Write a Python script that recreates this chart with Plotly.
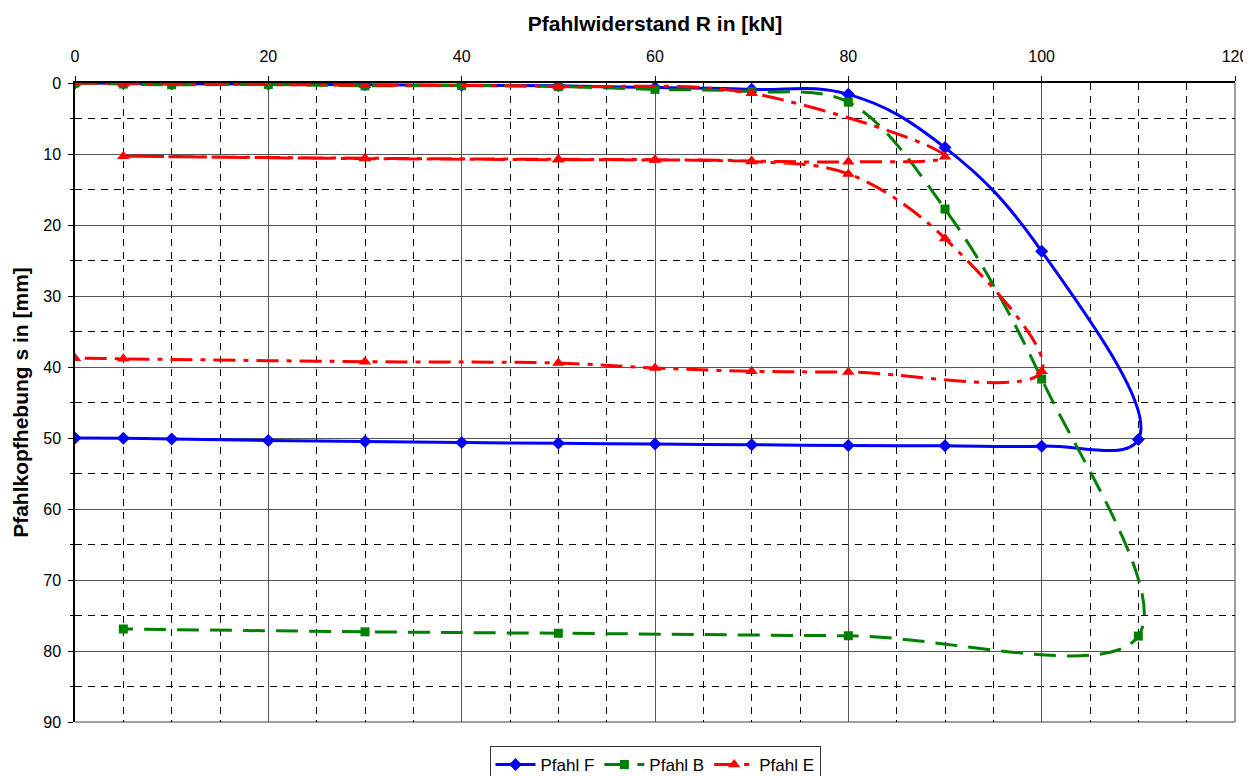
import plotly.graph_objects as go

# ---- data ----
F_R = [0, 5, 10, 20, 30, 40, 50, 60, 70, 80, 90, 100, 110,
       100, 90, 80, 70, 60, 50, 40, 30, 20, 10, 5, 0]
F_s = [0, 0.05, 0.1, 0.15, 0.25, 0.3, 0.4, 0.65, 0.9, 1.6, 9.1, 23.7, 50.2,
       51.15, 51.1, 51.05, 50.95, 50.85, 50.75, 50.65, 50.5, 50.35, 50.15, 50.05, 50.0]

B_R = [0, 5, 10, 20, 30, 40, 50, 60, 70, 80, 90, 100, 110,
       80, 50, 30, 5]
B_s = [0, 0.15, 0.25, 0.2, 0.4, 0.35, 0.5, 0.9, 1.2, 2.7, 17.75, 41.7, 77.9,
       77.85, 77.5, 77.3, 76.9]

E_R = [0, 5, 30, 50, 70, 90,
       80, 70, 60, 50, 30, 5,
       30, 50, 60, 70, 80, 90, 100,
       80, 70, 60, 50, 30, 5, 0]
E_s = [0, 0.1, 0.3, 0.5, 1.45, 10.4,
       11.1, 11.0, 10.8, 10.75, 10.6, 10.3,
       10.65, 10.8, 10.85, 11.05, 12.8, 21.9, 40.6,
       40.7, 40.6, 40.15, 39.45, 39.25, 38.85, 38.75]

series_names = ["Pfahl F", "Pfahl B", "Pfahl E"]
x_title = "Pfahlwiderstand R in [kN]"
y_title = "Pfahlkopfhebung s in [mm]"

FONT = "Arial, Liberation Sans, sans-serif"

fig = go.Figure()
fig.add_trace(go.Scatter(
    x=F_R, y=F_s, name=series_names[0], mode="lines+markers",
    line=dict(color="#0000FF", width=3, shape="spline", smoothing=1.15),
    marker=dict(symbol="diamond", size=10, color="#0000FF")))
fig.add_trace(go.Scatter(
    x=B_R, y=B_s, name=series_names[1], mode="lines+markers",
    line=dict(color="#008000", width=3, shape="spline", smoothing=1, dash="22px,11px"),
    marker=dict(symbol="square", size=9, color="#008000")))
fig.add_trace(go.Scatter(
    x=E_R, y=E_s, name=series_names[2], mode="lines+markers",
    line=dict(color="#FF0000", width=3, shape="spline", smoothing=1, dash="22px,8px,5px,8px"),
    marker=dict(symbol="triangle-up", size=11, color="#FF0000")))

# the page body has an 8px margin, so the figure is sized to fit the window
fig.update_layout(
    width=1243, height=768,
    margin=dict(l=67, r=16, t=75, b=54, autoexpand=False),
    paper_bgcolor="white", plot_bgcolor="white",
    font=dict(family=FONT, size=16, color="black"),
    showlegend=True,
    legend=dict(orientation="h", x=0.5, xanchor="center",
                yref="container", y=0.039, yanchor="top",
                bordercolor="#333333", borderwidth=1, bgcolor="white",
                font=dict(family=FONT, size=17), itemwidth=40, tracegroupgap=0),
)

fig.update_xaxes(
    side="top", range=[0, 120], dtick=20, tick0=0, automargin=False,
    showline=True, linecolor="black", linewidth=1.5,
    ticks="outside", ticklen=5, tickcolor="black", ticklabelstandoff=8,
    showgrid=True, gridcolor="#555555", gridwidth=1,
    zeroline=False,
    minor=dict(dtick=5, showgrid=True, gridcolor="black", griddash="7px,6px",
               gridwidth=1, ticks=""),
    title=dict(text=x_title, font=dict(family=FONT, size=21, weight="bold"), standoff=10),
    tickfont=dict(family=FONT, size=16),
)
fig.update_yaxes(
    range=[90, 0], dtick=10, tick0=0, automargin=False,
    showline=True, linecolor="black", linewidth=1.5,
    ticks="outside", ticklen=5, tickcolor="black", ticklabelstandoff=4,
    showgrid=True, gridcolor="#555555", gridwidth=1,
    zeroline=False,
    minor=dict(dtick=5, showgrid=True, gridcolor="black", griddash="7px,6px",
               gridwidth=1, ticks="outside", ticklen=3, tickcolor="black"),
    title=dict(text=y_title, font=dict(family=FONT, size=21, weight="bold"), standoff=9),
    tickfont=dict(family=FONT, size=16),
)

# plot-area border on the right and bottom (grey)
fig.add_shape(type="line", xref="paper", yref="paper", x0=1, x1=1, y0=0, y1=1,
              line=dict(color="#808080", width=1.5), layer="below")
fig.add_shape(type="line", xref="paper", yref="paper", x0=0, x1=1, y0=0, y1=0,
              line=dict(color="#808080", width=1.5), layer="below")

fig.write_html("out.html")
